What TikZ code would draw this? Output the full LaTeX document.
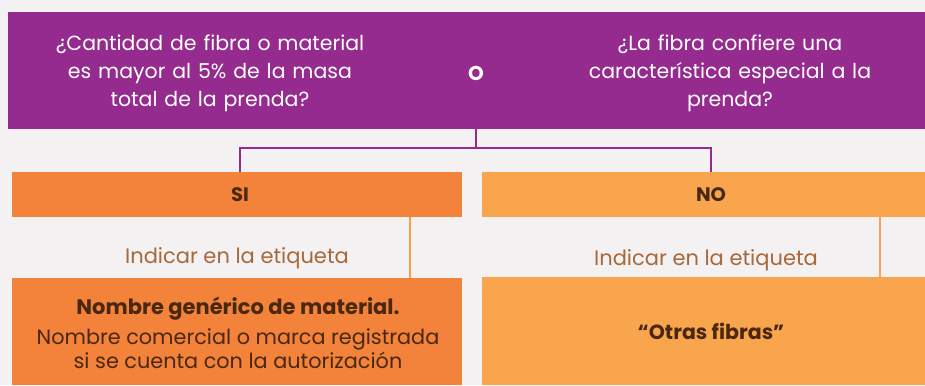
\documentclass[tikz,border=0pt]{standalone}
\usepackage{fontspec}
\setmainfont{Poppins}
\usepackage{tikz}

\definecolor{bgc}{HTML}{F3F1F2}
\definecolor{morado}{HTML}{952B8E}
\definecolor{naranja}{HTML}{F3823A}
\definecolor{claro}{HTML}{F9A54D}
\definecolor{cafe}{HTML}{4A2810}
\definecolor{etiq}{HTML}{A8683A}

\begin{document}
\begin{tikzpicture}[x=1pt,y=-1pt,
	caja/.style={inner sep=0pt, minimum height=#1},
	pregunta/.style={text=white, align=center, text width=380pt, font=\fontsize{20.5}{28}\selectfont},
	etiqueta/.style={text=etiq, font=\fontsize{21}{24}\selectfont}]
\fill [bgc] (0,0) rectangle (925,385);
\node [caja=117pt, minimum width=917pt, fill=morado] (top) at (466.5,70.5) {};
\node [pregunta] (q1) at (210,73) {¿Cantidad de fibra o material\\es mayor al 5\% de la masa\\total de la prenda?};
\node [pregunta] (q2) at (730,73) {¿La fibra confiere una\\característica especial a la\\prenda?};
\node [text=white, font=\fontsize{20}{24}\selectfont\bfseries] (o) at (476,73) {O};
\node [caja=45pt, minimum width=450pt, fill=naranja] (si) at (237,194.5) {};
\node [caja=45pt, minimum width=443pt, fill=claro] (no) at (703.5,194.5) {};
\node [text=cafe, font=\fontsize{19.5}{24}\selectfont\bfseries] (sitxt) at (240,194.5) {SI};
\node [text=cafe, font=\fontsize{19.5}{24}\selectfont\bfseries] (notxt) at (711,194.5) {NO};
\node [caja=107pt, minimum width=450pt, fill=naranja] (sigen) at (237,331.5) {};
\node [caja=108pt, minimum width=443pt, fill=claro] (otras) at (703.5,331) {};
\node [etiqueta] (ind1) at (237,258) {Indicar en la etiqueta};
\node [etiqueta] (ind2) at (706,260) {Indicar en la etiqueta};
\node [text=cafe, align=center, font=\fontsize{20.8}{24}\selectfont] (nombre) at (238,333)
	{{\fontsize{21}{24}\selectfont\bfseries Nombre genérico de material.}\\[6pt]Nombre comercial o marca registrada\\si se cuenta con la autorización};
\node [text=cafe, font=\fontsize{20.5}{24}\selectfont\bfseries] (otrastxt) at (711,331) {“Otras fibras”};
% conectores
\coordinate (fork) at (476,148);
\coordinate (a) at (240,148);
\coordinate (b) at (711,148);
\draw [morado, line width=1.3pt] (top.south -| fork) -- (fork);
\draw [morado, line width=1.3pt] (si.north -| a) -- (a) -- (b) -- (no.north -| b);
\coordinate (c) at (410,250);
\coordinate (d) at (880,250);
\draw [claro!80!naranja, line width=1.5pt] (si.south -| c) -- (sigen.north -| c);
\draw [claro, line width=1.5pt] (no.south -| d) -- (otras.north -| d);
\end{tikzpicture}
\end{document}
